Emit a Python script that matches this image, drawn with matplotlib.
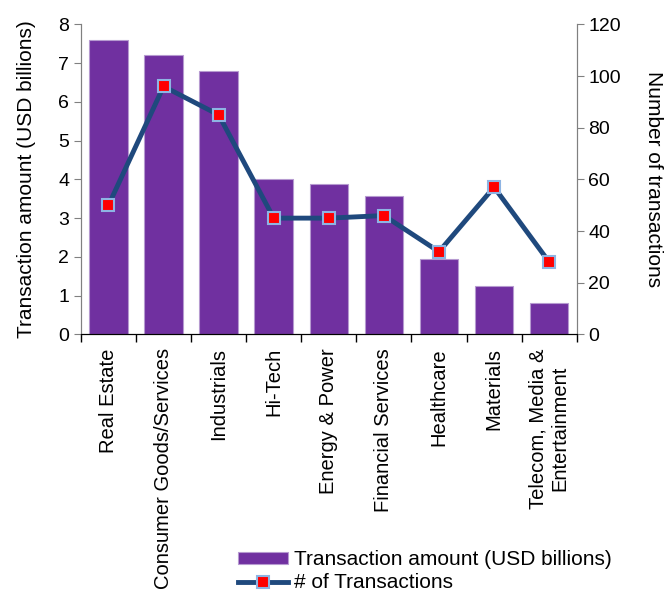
import matplotlib.pyplot as plt
import numpy as np

plt.rcParams['font.family'] = ['Liberation Sans', 'DejaVu Sans']

sectores = ['Real Estate', 'Consumer Goods/Services', 'Industrials', 'Hi-Tech',
            'Energy & Power', 'Financial Services', 'Healthcare', 'Materials',
            'Telecom, Media &\nEntertainment']
montos = [7.6, 7.2, 6.8, 4.0, 3.87, 3.58, 1.94, 1.24, 0.8]
transacciones = [50, 96, 85, 45, 45, 46, 32, 57, 28]

fig = plt.figure(figsize=(6.69, 5.97), dpi=100)
ax = fig.add_axes([0.121, 0.44, 0.741, 0.519])
ax2 = ax.twinx()

x = np.arange(len(sectores))
barras = ax.bar(x, montos, width=0.7, color='#7030A0', edgecolor='#B69AD0',
                linewidth=0.8, label='Transaction amount (USD billions)')
linea, = ax2.plot(x, transacciones, color='#1F497D', linewidth=3.5, marker='s',
                  markersize=9, markerfacecolor='#FF0000', markeredgecolor='#8EB4E3',
                  markeredgewidth=1.5, label='# of Transactions')

ax.set_xlim(-0.5, len(sectores) - 0.5)
ax.set_ylim(0, 8)
ax2.set_ylim(0, 120)
ax.set_yticks(range(0, 9))
ax2.set_yticks(range(0, 121, 20))

ax.set_xticks(x)
ax.set_xticklabels(sectores, rotation=90, fontsize=14.5, ha='center', va='top',
                   multialignment='center')
ax.set_xticks(np.arange(-0.5, len(sectores)), minor=True)
ax.tick_params(axis='x', which='major', length=0, pad=10)
ax.tick_params(axis='x', which='minor', length=6, width=1, color='black')

ax.tick_params(axis='y', labelsize=14, length=5, color='#808080')
ax2.tick_params(axis='y', labelsize=14, length=5, color='#808080')

ax.set_ylabel('Transaction amount (USD billions)', fontsize=15, labelpad=16)
ax2.set_ylabel('Number of transactions', fontsize=15, rotation=270, labelpad=30)

for a in (ax, ax2):
    a.spines['top'].set_visible(False)
    a.spines['left'].set_color('#808080')
    a.spines['right'].set_color('#808080')
    a.spines['bottom'].set_color('black')

fig.legend([barras, linea], ['Transaction amount (USD billions)', '# of Transactions'],
           loc='lower left', bbox_to_anchor=(0.356, 0.008), frameon=False, fontsize=15,
           handlelength=2.4, handleheight=0.5, handletextpad=0.3, labelspacing=0.2,
           borderpad=0, borderaxespad=0)

fig.savefig('out.png', dpi=100)
